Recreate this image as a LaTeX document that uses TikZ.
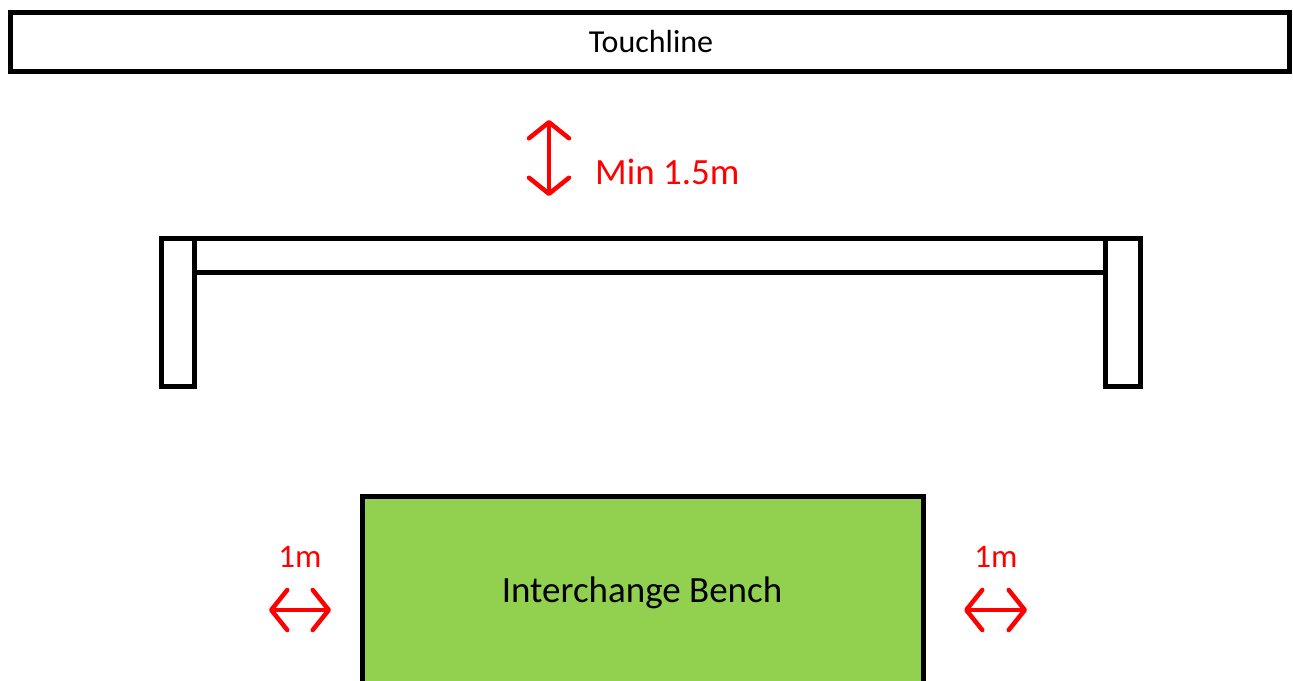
\documentclass[tikz,border=0pt]{standalone}
\usepackage{fontspec}
\setmainfont{Carlito}
\usetikzlibrary{arrows.meta}
\definecolor{benchgreen}{HTML}{92D050}
\begin{document}
\begin{tikzpicture}[x=1pt,y=-1pt,
  box/.style={draw=black,line width=5pt},
  dim/.style={draw=red,line width=4.5pt,line cap=round,
    {Straight Barb[length=16pt,width=40pt,line cap=round,line join=round]}-{Straight Barb[length=16pt,width=40pt,line cap=round,line join=round]}},
  lbl/.style={text=red,inner sep=0pt}]
\useasboundingbox (0,0) rectangle (1293,680);
% touchline
\draw[box] (10.5,12.5) rectangle (1289.5,71);
\node[inner sep=0pt,font=\fontsize{32}{38}\selectfont] (touch) at (651,42) {Touchline};
% minimum distance arrow
\coordinate (vt) at (549,120);
\coordinate (vb) at (549,196);
\draw[dim] (vt) -- (vb);
\node[lbl,anchor=west,font=\fontsize{37}{44}\selectfont] (min) at (595,172) {Min 1.5m};
% bench frame
\draw[box] (194,238) rectangle (1105,272);
\draw[box] (161,238) rectangle (194,386);
\draw[box] (1105,238) rectangle (1140,386);
% interchange bench
\fill[benchgreen] (362,496) rectangle (923,690);
\draw[box,line join=miter] (362,690) -- (362,496) -- (923,496) -- (923,690);
\node[inner sep=0pt,font=\fontsize{37}{44}\selectfont] (bench) at (642,593) {Interchange Bench};
% side clearances
\coordinate (ll) at (269,610);
\coordinate (lr) at (331,610);
\draw[dim] (ll) -- (lr);
\node[lbl,font=\fontsize{33}{40}\selectfont] (onel) at (300,557) {1m};
\coordinate (rl) at (964,610);
\coordinate (rr) at (1027,610);
\draw[dim] (rl) -- (rr);
\node[lbl,font=\fontsize{33}{40}\selectfont] (oner) at (996,557) {1m};
\end{tikzpicture}
\end{document}
